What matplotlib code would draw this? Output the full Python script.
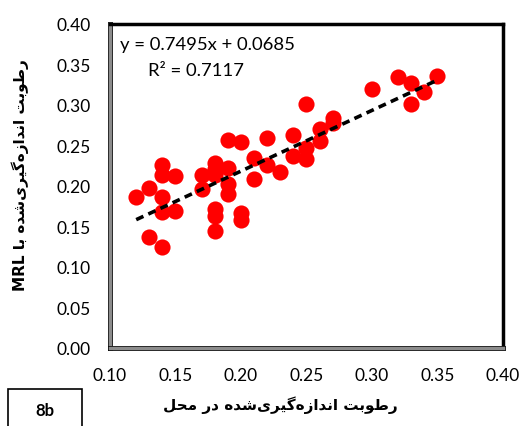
import numpy as np
import matplotlib
matplotlib.use("Agg")
import matplotlib.pyplot as plt
import matplotlib.patheffects as pe
from matplotlib.patches import Rectangle

plt.rcParams['font.family'] = ['Lato', 'DejaVu Sans']

# measured in situ vs measured with MRL
x_insitu = [0.12, 0.13, 0.13, 0.14, 0.14, 0.14, 0.14, 0.14, 0.15, 0.15,
            0.17, 0.17, 0.18, 0.18, 0.18, 0.18, 0.18, 0.18, 0.19, 0.19,
            0.19, 0.19, 0.20, 0.20, 0.20, 0.21, 0.21, 0.22, 0.22, 0.23,
            0.24, 0.24, 0.25, 0.25, 0.25, 0.26, 0.26, 0.27, 0.27, 0.30,
            0.32, 0.33, 0.33, 0.34, 0.35]
y_mrl = [0.186, 0.198, 0.137, 0.226, 0.214, 0.186, 0.168, 0.125, 0.212, 0.169,
         0.214, 0.196, 0.229, 0.221, 0.213, 0.172, 0.163, 0.144, 0.257, 0.222,
         0.203, 0.190, 0.254, 0.167, 0.158, 0.235, 0.209, 0.259, 0.226, 0.217,
         0.263, 0.237, 0.301, 0.247, 0.233, 0.270, 0.256, 0.284, 0.278, 0.320,
         0.335, 0.327, 0.301, 0.316, 0.336]

slope = 0.7495
intercept = 0.0685
r2 = 0.7117

ticks = [0.00, 0.05, 0.10, 0.15, 0.20, 0.25, 0.30, 0.35, 0.40]
xticks = [0.10, 0.15, 0.20, 0.25, 0.30, 0.35, 0.40]

xlabel_fa = 'رطوبت اندازه\u200cگیری\u200cشده در محل'
ylabel_fa = 'رطوبت اندازه\u200cگیری\u200cشده با'

# persian letters -> presentation forms (isolated, final, initial, medial)
FORMS = {
    'ا': (0xFE8D, 0xFE8E, None, None),
    'ب': (0xFE8F, 0xFE90, 0xFE91, 0xFE92),
    'ت': (0xFE95, 0xFE96, 0xFE97, 0xFE98),
    'ح': (0xFEA1, 0xFEA2, 0xFEA3, 0xFEA4),
    'د': (0xFEA9, 0xFEAA, None, None),
    'ر': (0xFEAD, 0xFEAE, None, None),
    'ز': (0xFEAF, 0xFEB0, None, None),
    'ش': (0xFEB5, 0xFEB6, 0xFEB7, 0xFEB8),
    'ط': (0xFEC1, 0xFEC2, 0xFEC3, 0xFEC4),
    'ل': (0xFEDD, 0xFEDE, 0xFEDF, 0xFEE0),
    'م': (0xFEE1, 0xFEE2, 0xFEE3, 0xFEE4),
    'ن': (0xFEE5, 0xFEE6, 0xFEE7, 0xFEE8),
    'ه': (0xFEE9, 0xFEEA, 0xFEEB, 0xFEEC),
    'و': (0xFEED, 0xFEEE, None, None),
    'گ': (0xFB92, 0xFB93, 0xFB94, 0xFB95),
    'ی': (0xFBFC, 0xFBFD, 0xFBFE, 0xFBFF),
}


def shape(s):
    out = []
    for i, c in enumerate(s):
        if c not in FORMS:
            if c != '\u200c':
                out.append(c)
            continue
        iso, fin, ini, med = FORMS[c]
        prev = s[i - 1] if i > 0 else ''
        nxt = s[i + 1] if i + 1 < len(s) else ''
        jp = prev in FORMS and FORMS[prev][2] is not None
        jn = ini is not None and nxt in FORMS
        if jp and jn:
            out.append(chr(med))
        elif jp:
            out.append(chr(fin))
        elif jn:
            out.append(chr(ini))
        else:
            out.append(chr(iso))
    return ''.join(reversed(out))


fig = plt.figure(figsize=(5.29, 4.27), dpi=100)
ax = fig.add_axes([110 / 529, 1 - 349 / 427, 393 / 529, 324 / 427])

ax.scatter(x_insitu, y_mrl, s=135, color='#FF0000', zorder=3, linewidths=0)

xf = np.array([min(x_insitu), max(x_insitu)])
ax.plot(xf, slope * xf + intercept, color='black', lw=2.6,
        dashes=(2.2, 1.5), zorder=4)

ax.set_xlim(0.10, 0.40)
ax.set_ylim(0.00, 0.40)
ax.set_xticks(xticks)
ax.set_yticks(ticks)
ax.set_xticklabels(['%.2f' % t for t in xticks])
ax.set_yticklabels(['%.2f' % t for t in ticks])
ax.tick_params(length=0, labelsize=12.5, pad=14)

for side in ['top', 'right']:
    ax.spines[side].set_color('black')
    ax.spines[side].set_linewidth(2.5)
for side in ['left', 'bottom']:
    ax.spines[side].set_color('#8c8c8c')
    ax.spines[side].set_linewidth(2.5)
    ax.spines[side].set_path_effects([pe.Stroke(linewidth=3.5, foreground='black'), pe.Normal()])

fig.text(207 / 529, 1 - 45 / 427, 'y = %.4fx + %.4f' % (slope, intercept),
         ha='center', va='center', fontsize=13.3)
fig.text(196 / 529, 1 - 71 / 427, 'R² = %.4f' % r2,
         ha='center', va='center', fontsize=13.3)

fig.text(280 / 529, 1 - 405 / 427, shape(xlabel_fa), ha='center', va='center',
         fontsize=11, fontweight='bold', family=['DejaVu Sans'])
fig.text(20 / 529, 1 - 175 / 427, 'MRL ' + shape(ylabel_fa), ha='center', va='center',
         rotation=90, fontsize=11, fontweight='bold', family=['DejaVu Sans'])

fig.patches.append(Rectangle((8 / 529, -0.05), 74 / 529, 0.05 + 37 / 427,
                             transform=fig.transFigure, fill=False,
                             edgecolor='black', lw=1.2))
fig.text(45 / 529, 1 - 411 / 427, '8b', ha='center', va='center',
         fontsize=12, fontweight='bold')

fig.savefig('out.png', dpi=100)
